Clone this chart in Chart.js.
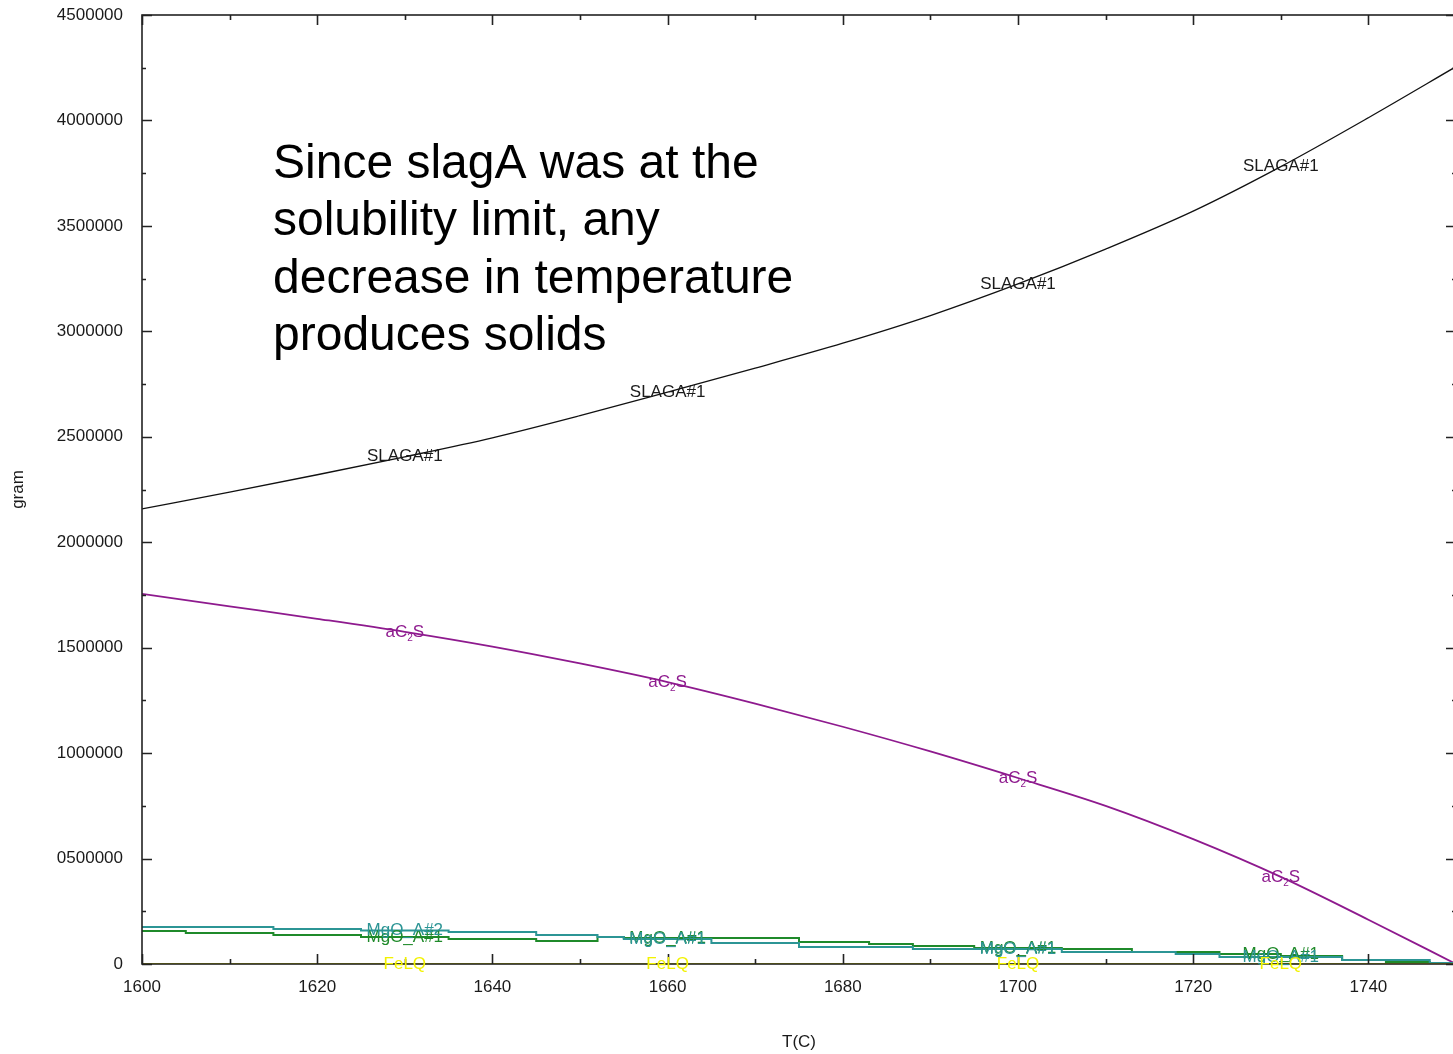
<!DOCTYPE html>
<html>
<head>
<meta charset="utf-8">
<script src="https://cdn.jsdelivr.net/npm/chart.js@4.4.1/dist/chart.umd.min.js"></script>
<style>
  html, body { margin: 0; padding: 0; background: #fff; overflow: hidden; }
  canvas { display: block; }
</style>
</head>
<body>
<canvas id="myChart" width="1456" height="1054"></canvas>
<script>
// temperatures (C) for the smooth curves
const temps = [1600, 1610, 1620, 1630, 1640, 1650, 1660, 1670, 1680, 1690, 1700, 1710, 1720, 1730, 1740, 1750];
const slagA = [2158000, 2238000, 2320000, 2405000, 2495000, 2600000, 2712000, 2826000, 2944000, 3075000, 3225000, 3390000, 3570000, 3781000, 4013000, 4255000];
const aC2S = [1755000, 1696000, 1637000, 1575000, 1505000, 1425000, 1337000, 1235000, 1125000, 1008000, 882000, 750000, 592000, 413000, 210000, 0];
const feLQ = [0, 0, 0, 0, 0, 0, 0, 0, 0, 0, 0, 0, 0, 0, 0, 0];

// MgO phases are stepped
const mgoTemps = [1600, 1605, 1615, 1625, 1635, 1645, 1652, 1655, 1665, 1675, 1683, 1688, 1695, 1705, 1713, 1718, 1723, 1730, 1737, 1742, 1747, 1750];
const mgoA2 = [175000, 175000, 166000, 159000, 152000, 138000, 128000, 119000, 100000, 81000, 81000, 71000, 71000, 57000, 57000, 47000, 33000, 33000, 19000, 19000, 5000, 0];
const mgoA1 = [157000, 147000, 138000, 128000, 119000, 109000, 128000, 123000, 123000, 104000, 95000, 85000, 76000, 71000, 57000, 57000, 47000, 38000, 19000, 10000, 5000, 0];

const xTicks = [1600, 1620, 1640, 1660, 1680, 1700, 1720, 1740];
const yTicks = [0, 500000, 1000000, 1500000, 2000000, 2500000, 3000000, 3500000, 4000000, 4500000];
const labelTemps = [1630, 1660, 1700, 1730];

const FONT = 'Liberation Sans, Arial, sans-serif';

function valueAt(xs, ys, t, stepped) {
  for (let i = 0; i < xs.length - 1; i++) {
    if (t >= xs[i] && t <= xs[i + 1]) {
      if (stepped) return ys[i];
      const f = (t - xs[i]) / (xs[i + 1] - xs[i]);
      return ys[i] + f * (ys[i + 1] - ys[i]);
    }
  }
  return ys[ys.length - 1];
}

function pts(xs, ys) {
  return xs.map((t, i) => ({ x: t, y: ys[i] }));
}

// inward ticks and plot frame, gnuplot style
const frameTicks = {
  id: 'frameTicks',
  afterDatasetsDraw(chart) {
    const { ctx, chartArea: a, scales: { x, y } } = chart;
    ctx.save();
    ctx.strokeStyle = '#222';
    ctx.lineWidth = 1.6;
    ctx.strokeRect(a.left, a.top, a.right - a.left, a.bottom - a.top);
    ctx.beginPath();
    const xAll = [];
    xTicks.forEach(t => { xAll.push([t, 10]); xAll.push([t + 10, 5]); });
    xAll.forEach(([t, len]) => {
      const px = Math.round(x.getPixelForValue(t)) + 0.5;
      ctx.moveTo(px, a.bottom); ctx.lineTo(px, a.bottom - len);
      ctx.moveTo(px, a.top); ctx.lineTo(px, a.top + len);
    });
    const yAll = [];
    yTicks.forEach(v => { yAll.push([v, 10]); if (v < 4500000) yAll.push([v + 250000, 4]); });
    yAll.forEach(([v, len]) => {
      const py = Math.round(y.getPixelForValue(v)) + 0.5;
      ctx.moveTo(a.left, py); ctx.lineTo(a.left + len, py);
      ctx.moveTo(a.right, py); ctx.lineTo(a.right - len, py);
    });
    ctx.stroke();
    ctx.restore();
  }
};

// phase names written on the curves
const curveLabels = {
  id: 'curveLabels',
  afterDraw(chart) {
    const { ctx, scales: { x, y } } = chart;
    ctx.save();
    ctx.font = '17px ' + FONT;
    ctx.textBaseline = 'middle';
    ctx.textAlign = 'center';
    labelTemps.forEach(t => {
      const px = x.getPixelForValue(t);
      // SLAGA#1
      ctx.fillStyle = '#1a1a1a';
      ctx.fillText('SLAGA#1', px, y.getPixelForValue(valueAt(temps, slagA, t)));
      // aC2S with subscript
      const py = y.getPixelForValue(valueAt(temps, aC2S, t));
      ctx.fillStyle = '#8e1a8e';
      ctx.textAlign = 'left';
      ctx.font = '17px ' + FONT;
      const w1 = ctx.measureText('aC').width;
      ctx.font = '10px ' + FONT;
      const w2 = ctx.measureText('2').width;
      ctx.font = '17px ' + FONT;
      const w3 = ctx.measureText('S').width;
      const x0 = px - (w1 + w2 + w3) / 2;
      ctx.fillText('aC', x0, py);
      ctx.font = '10px ' + FONT;
      ctx.fillText('2', x0 + w1, py + 6);
      ctx.font = '17px ' + FONT;
      ctx.fillText('S', x0 + w1 + w2, py);
      ctx.textAlign = 'center';
      // MgO labels
      ctx.fillStyle = '#1f8a2a';
      ctx.fillText('MgO_A#1', px, y.getPixelForValue(valueAt(mgoTemps, mgoA1, t, true)));
      ctx.fillStyle = '#2c9595';
      ctx.fillText(t === 1630 ? 'MgO_A#2' : 'MgO_A#1', px, y.getPixelForValue(valueAt(mgoTemps, mgoA2, t, true)));
      // FeLQ
      ctx.fillStyle = '#f2f200';
      ctx.fillText('FeLQ', px, y.getPixelForValue(valueAt(temps, feLQ, t)));
    });

    // annotation
    ctx.fillStyle = '#000';
    ctx.textAlign = 'left';
    ctx.textBaseline = 'alphabetic';
    ctx.font = '48px ' + FONT;
    const lines = ['Since slagA was at the', 'solubility limit, any', 'decrease in temperature', 'produces solids'];
    lines.forEach((s, i) => ctx.fillText(s, 273, 178 + i * 57.3));
    ctx.restore();
  }
};

const ctx = document.getElementById('myChart');

new Chart(ctx, {
  type: 'line',
  data: {
    datasets: [
      { label: 'FeLQ', data: pts(temps, feLQ), borderColor: '#f2f200', borderWidth: 2, pointRadius: 0 },
      { label: 'MgO_A#2', data: pts(mgoTemps, mgoA2), borderColor: '#2c9595', borderWidth: 2, pointRadius: 0, stepped: true },
      { label: 'MgO_A#1', data: pts(mgoTemps, mgoA1), borderColor: '#1f8a2a', borderWidth: 2, pointRadius: 0, stepped: true },
      { label: 'aC2S', data: pts(temps, aC2S), borderColor: '#8e1a8e', borderWidth: 1.8, pointRadius: 0, cubicInterpolationMode: 'monotone' },
      { label: 'SLAGA#1', data: pts(temps, slagA), borderColor: '#111', borderWidth: 1.3, pointRadius: 0, cubicInterpolationMode: 'monotone' }
    ]
  },
  options: {
    responsive: false,
    animation: false,
    devicePixelRatio: 1,
    layout: { padding: { top: 15, right: 0, left: 0, bottom: 0 } },
    plugins: {
      legend: { display: false },
      tooltip: { enabled: false }
    },
    scales: {
      x: {
        type: 'linear',
        min: 1600,
        max: 1750,
        grid: { display: false, drawTicks: false },
        border: { display: false },
        afterBuildTicks: s => { s.ticks = xTicks.map(v => ({ value: v })); },
        afterFit: s => { s.height = 90; s.paddingLeft = 0; s.paddingRight = 0; },
        ticks: { color: '#1a1a1a', font: { family: FONT, size: 17 }, padding: 13, maxRotation: 0, callback: v => String(v) },
        title: { display: true, text: 'T(C)', color: '#1a1a1a', font: { family: FONT, size: 17 }, padding: { top: 0, bottom: 1 } }
      },
      y: {
        min: 0,
        max: 4500000,
        grid: { display: false, drawTicks: false },
        border: { display: false },
        afterBuildTicks: s => { s.ticks = yTicks.map(v => ({ value: v })); },
        afterFit: s => { s.width = 142; s.paddingTop = 0; s.paddingBottom = 0; },
        ticks: {
          color: '#1a1a1a',
          font: { family: FONT, size: 17 },
          padding: 19,
          callback: v => v === 0 ? '0' : String(v).padStart(7, '0')
        },
        title: { display: true, text: 'gram', color: '#1a1a1a', font: { family: FONT, size: 17 }, padding: { top: 8, bottom: 0 } }
      }
    }
  },
  plugins: [frameTicks, curveLabels]
});
</script>
</body>
</html>
